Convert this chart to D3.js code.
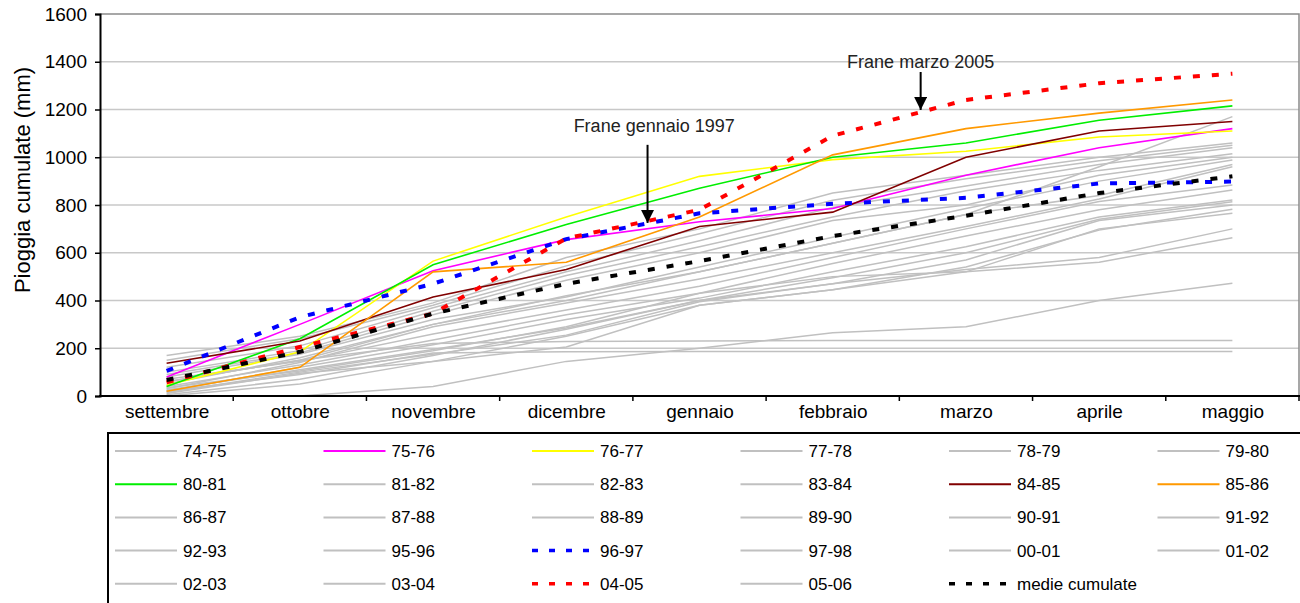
<!DOCTYPE html>
<html>
<head>
<meta charset="utf-8">
<script src="https://cdn.jsdelivr.net/npm/d3@7"></script>
<style>
  html, body { margin: 0; padding: 0; background: #fff; }
  svg { display: block; font-family: "Liberation Sans", Arial, Helvetica, sans-serif; }
</style>
</head>
<body>
<svg id="chart" width="1300" height="603"></svg>
<script>
// Months of the hydrological season (September to May)
const months = ["settembre", "ottobre", "novembre", "dicembre", "gennaio", "febbraio", "marzo", "aprile", "maggio"];
const yTicks = [0, 200, 400, 600, 800, 1000, 1200, 1400, 1600];

// Cumulative rainfall (mm) per season, one value per month
const s7475 = [170, 250, 390, 580, 700, 850, 925, 1000, 1060];
const s7576 = [80, 300, 525, 655, 730, 785, 925, 1040, 1120];
const s7677 = [45, 185, 565, 750, 920, 990, 1025, 1085, 1110];
const s7778 = [150, 240, 380, 545, 680, 820, 910, 985, 1050];
const s7879 = [120, 210, 370, 520, 650, 790, 880, 970, 1040];
const s7980 = [100, 190, 355, 505, 625, 750, 860, 945, 1015];
const s8081 = [40, 240, 550, 718, 870, 1000, 1060, 1155, 1215];
const s8182 = [90, 180, 340, 485, 600, 735, 800, 925, 1000];
const s8283 = [80, 175, 320, 415, 540, 665, 785, 900, 988];
const s8384 = [60, 150, 300, 420, 520, 640, 760, 960, 1170];
const s8485 = [137, 230, 415, 530, 710, 770, 1000, 1110, 1150];
const s8586 = [20, 120, 520, 560, 750, 1010, 1120, 1185, 1240];
const s8687 = [50, 160, 300, 400, 520, 640, 760, 840, 970];
const s8788 = [30, 140, 290, 390, 490, 600, 710, 825, 960];
const s8889 = [70, 145, 260, 360, 460, 580, 700, 815, 884];
const s8990 = [40, 130, 235, 340, 430, 555, 670, 780, 863];
const s9091 = [20, 120, 215, 320, 410, 520, 625, 750, 821];
const s9192 = [25, 110, 195, 285, 400, 495, 600, 740, 814];
const s9293 = [15, 100, 175, 255, 395, 470, 570, 735, 800];
const s9596 = [10, 95, 145, 205, 380, 445, 540, 695, 782];
const s9697 = [105, 330, 470, 657, 765, 805, 830, 890, 898];
const s9798 = [35, 105, 190, 290, 430, 500, 520, 700, 765];
const s0001 = [5, 70, 170, 280, 400, 470, 530, 580, 700];
const s0102 = [0, 50, 145, 250, 380, 445, 520, 560, 663];
const s0203 = [0, 0, 40, 145, 200, 265, 290, 400, 472];
const s0304 = [60, 150, 220, 228, 230, 232, 232, 232, 232];
const s0405 = [57, 205, 345, 660, 780, 1090, 1240, 1310, 1350];
const s0506 = [20, 90, 180, 185, 186, 186, 186, 186, 186];
const medie = [67, 185, 345, 470, 565, 670, 755, 850, 920];

// Legend order (row by row) with labels and series
const legendLabels = ["74-75", "75-76", "76-77", "77-78", "78-79", "79-80",
  "80-81", "81-82", "82-83", "83-84", "84-85", "85-86",
  "86-87", "87-88", "88-89", "89-90", "90-91", "91-92",
  "92-93", "95-96", "96-97", "97-98", "00-01", "01-02",
  "02-03", "03-04", "04-05", "05-06", "medie cumulate"];
const legendValues = [s7475, s7576, s7677, s7778, s7879, s7980,
  s8081, s8182, s8283, s8384, s8485, s8586,
  s8687, s8788, s8889, s8990, s9091, s9192,
  s9293, s9596, s9697, s9798, s0001, s0102,
  s0203, s0304, s0405, s0506, medie];

// Line styles per season (anything not listed is drawn light gray)
const styleOf = {
  "75-76": { color: "#ff00ff", width: 1.6 },
  "76-77": { color: "#ffff00", width: 1.6 },
  "80-81": { color: "#00ee00", width: 1.6 },
  "84-85": { color: "#800000", width: 1.6 },
  "85-86": { color: "#ff9900", width: 1.6 },
  "96-97": { color: "#0000ff", width: 4, dash: "7,12" },
  "04-05": { color: "#ff0000", width: 4, dash: "7,12" },
  "medie cumulate": { color: "#000000", width: 4, dash: "7,12" }
};
const grayStyle = { color: "#c0c0c0", width: 1.5 };
const drawOrder = ["75-76", "76-77", "80-81", "84-85", "85-86", "96-97", "04-05", "medie cumulate"];

// Annotations: position as month index (fractional) and value
const notes = [
  { text: "Frane gennaio 1997", tx: 3.66, tv: 1106, ax: 3.61, from: 1052, to: 725 },
  { text: "Frane marzo 2005", tx: 5.66, tv: 1374, ax: 5.66, from: 1357, to: 1198 }
];

const svg = d3.select("#chart");
const plotL = 100, plotR = 1299, plotT = 14, plotB = 396;

const x = d3.scalePoint().domain(months).range([plotL, plotR]).padding(0.5);
const xb = d3.scaleBand().domain(months).range([plotL, plotR]);
const xi = d3.scaleLinear().domain([0, months.length - 1]).range([x(months[0]), x(months[months.length - 1])]);
const y = d3.scaleLinear().domain([0, 1600]).range([plotB, plotT]);

// Horizontal grid lines
svg.append("g").selectAll("line").data(yTicks.filter(v => v > 0 && v < 1600)).join("line")
  .attr("x1", plotL).attr("x2", plotR)
  .attr("y1", d => y(d)).attr("y2", d => y(d))
  .attr("stroke", "#c8c8c8").attr("stroke-width", 1.5);

// Plot frame (top and right)
svg.append("path")
  .attr("d", `M${plotL},${y(1600)}H${plotR}V${plotB}`)
  .attr("fill", "none").attr("stroke", "#8a8a8a").attr("stroke-width", 1.5);

// Series lines
const line = d3.line().x((d, i) => x(months[i])).y(d => y(d));
const g = svg.append("g");
legendLabels.forEach((lab, k) => {
  if (styleOf[lab]) return;
  g.append("path").datum(legendValues[k]).attr("d", line)
    .attr("fill", "none").attr("stroke", grayStyle.color).attr("stroke-width", grayStyle.width);
});
drawOrder.forEach(lab => {
  const k = legendLabels.indexOf(lab);
  const st = styleOf[lab];
  g.append("path").datum(legendValues[k]).attr("d", line)
    .attr("fill", "none").attr("stroke", st.color).attr("stroke-width", st.width)
    .attr("stroke-dasharray", st.dash || null);
});

// Y axis
const yAxis = svg.append("g").attr("transform", `translate(${plotL},0)`)
  .call(d3.axisLeft(y).tickValues(yTicks).tickFormat(d3.format("d")).tickSize(5).tickPadding(8));
yAxis.select(".domain").attr("stroke", "#000").attr("stroke-width", 2);
yAxis.selectAll(".tick line").attr("stroke", "#000").attr("stroke-width", 1.5);
yAxis.selectAll(".tick text").attr("font-size", 19).attr("fill", "#000")
  .attr("font-family", "Liberation Sans, Arial, sans-serif");

// X axis: labels centred on months, ticks on month boundaries
const xAxis = svg.append("g").attr("transform", `translate(0,${plotB})`)
  .call(d3.axisBottom(x).tickSize(0).tickPadding(9));
xAxis.select(".domain").remove();
xAxis.selectAll(".tick text").attr("font-size", 19).attr("fill", "#000")
  .attr("font-family", "Liberation Sans, Arial, sans-serif");
svg.append("line").attr("x1", plotL - 1).attr("x2", plotR + 1).attr("y1", plotB).attr("y2", plotB)
  .attr("stroke", "#000").attr("stroke-width", 2);
svg.append("g").selectAll("line").data(months.slice(1).map(m => xb(m)).concat([xb.range()[1]])).join("line")
  .attr("x1", d => d).attr("x2", d => d).attr("y1", plotB).attr("y2", plotB + 5)
  .attr("stroke", "#000").attr("stroke-width", 1.5);

// Y axis title
svg.append("text")
  .attr("transform", "translate(30,180) rotate(-90)")
  .attr("text-anchor", "middle").attr("font-size", 22).attr("fill", "#000")
  .text("Pioggia cumulate (mm)");

// Annotations with arrows
svg.append("defs").append("marker")
  .attr("id", "arrow").attr("viewBox", "0 0 10 10").attr("refX", 10).attr("refY", 5)
  .attr("markerWidth", 6.5).attr("markerHeight", 6.5).attr("markerUnits", "strokeWidth")
  .attr("orient", "auto")
  .append("path").attr("d", "M0,0L10,5L0,10Z").attr("fill", "#000");
notes.forEach(n => {
  svg.append("text").attr("x", xi(n.tx)).attr("y", y(n.tv))
    .attr("text-anchor", "middle").attr("font-size", 18).attr("fill", "#222")
    .text(n.text);
  svg.append("line").attr("x1", xi(n.ax)).attr("x2", xi(n.ax))
    .attr("y1", y(n.from)).attr("y2", y(n.to))
    .attr("stroke", "#000").attr("stroke-width", 2).attr("marker-end", "url(#arrow)");
});

// Legend
const lgX = 108, lgY = 433, colW = 208.5, rowH = 33.2;
svg.append("rect").attr("x", lgX).attr("y", lgY).attr("width", 1300).attr("height", 300)
  .attr("fill", "#fff").attr("stroke", "#000").attr("stroke-width", 2);
const lg = svg.append("g");
legendLabels.forEach((lab, k) => {
  const c = k % 6, r = Math.floor(k / 6);
  const st = styleOf[lab] || grayStyle;
  const lx = lgX + 7 + c * colW, ly = lgY + 18 + r * rowH;
  lg.append("line").attr("x1", lx).attr("x2", lx + 62).attr("y1", ly).attr("y2", ly)
    .attr("stroke", st.color).attr("stroke-width", st.dash ? 3.5 : 2)
    .attr("stroke-dasharray", st.dash ? "6,11" : null);
  lg.append("text").attr("x", lx + 68).attr("y", ly + 6)
    .attr("font-size", 17).attr("fill", "#000").text(lab);
});
</script>
</body>
</html>
